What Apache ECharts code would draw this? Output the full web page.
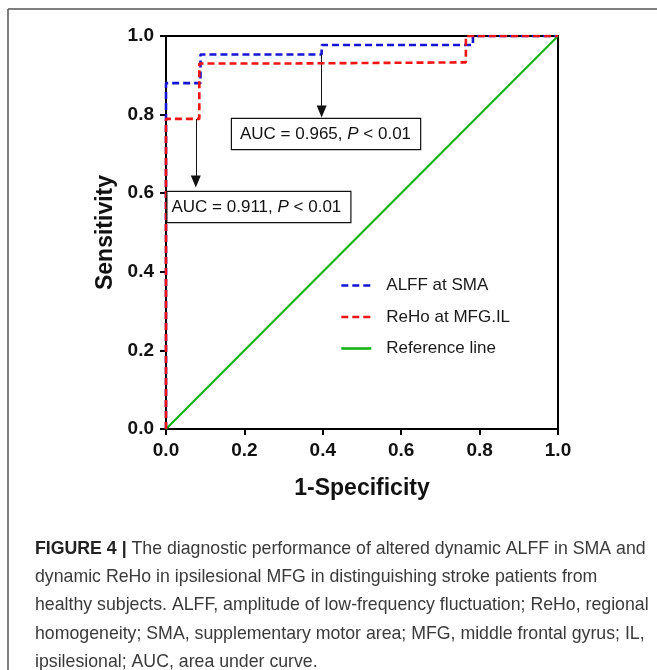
<!DOCTYPE html>
<html><head><meta charset="utf-8">
<script src="https://cdn.jsdelivr.net/npm/echarts@6/dist/echarts.min.js"></script>
<style>html,body{margin:0;padding:0;background:#fff}#c{width:657px;height:670px}</style>
</head><body><div id="c"></div>
<script>
// ROC curve points
const alffFpr = [0, 0, 0.088, 0.088, 0.397, 0.397, 0.783, 0.783, 1.0];
const alffTpr = [0, 0.880, 0.880, 0.953, 0.953, 0.977, 0.977, 1.0, 1.0];
const rehoFpr = [0, 0, 0.085, 0.085, 0.308, 0.308, 0.765, 0.765, 1.0];
const rehoTpr = [0, 0.789, 0.789, 0.930, 0.930, 0.933, 0.933, 1.0, 1.0];
const refX = [0, 1];
const refY = [0, 1];
const seriesNames = ['ALFF at SMA', 'ReHo at MFG.IL', 'Reference line'];
// annotation arrows: [x, yStart, yEnd]
const arrowAlff = [0.397, 0.953, 0.808];
const arrowReho = [0.076, 0.789, 0.630];
const aucTexts = ['AUC = 0.965, ', 'AUC = 0.911, '];
const captionBold = 'FIGURE 4 |';
const captionLines = [
  ' The diagnostic performance of altered dynamic ALFF in SMA and',
  'dynamic ReHo in ipsilesional MFG in distinguishing stroke patients from',
  'healthy subjects. ALFF, amplitude of low-frequency fluctuation; ReHo, regional',
  'homogeneity; SMA, supplementary motor area; MFG, middle frontal gyrus; IL,',
  'ipsilesional; AUC, area under curve.'
];

const zip = (a, b) => a.map((v, i) => [v, b[i]]);
const AF = '"Liberation Sans", Arial, sans-serif';
const CF = '"Liberation Sans", Arial, sans-serif';

// fit caption font size to width of the longest line
const cv = document.createElement('canvas').getContext('2d');
cv.font = '100px ' + CF;
const w3 = cv.measureText(captionLines[2]).width;
const capSize = 100 * 614 / w3;

function arrowLine(a) {
  return {
    silent: true, animation: false,
    symbol: ['none', 'triangle'], symbolSize: [10, 12],
    lineStyle: {color: '#111', width: 1, type: 'solid'},
    label: {show: false},
    data: [[{coord: [a[0], a[1]]}, {coord: [a[0], a[2]]}]]
  };
}

const chart = echarts.init(document.getElementById('c'));
const capGraphics = captionLines.map((t, i) => ({
  type: 'text', silent: true,
  style: {
    x: 35, y: 549 + i * 28.3,
    text: i === 0 ? '{b|' + captionBold + '}{n|' + t + '}' : t,
    fontFamily: CF, fontSize: capSize, fill: '#3a3a3a', verticalAlign: 'middle',
    rich: i === 0 ? {
      b: {fontFamily: CF, fontSize: capSize, fontWeight: 'bold', fill: '#222', verticalAlign: 'middle'},
      n: {fontFamily: CF, fontSize: capSize, fill: '#3a3a3a', verticalAlign: 'middle'}
    } : undefined
  }
}));

function aucBox(x, y, txt, pad) {
  return {
    type: 'text', silent: true, z: 50,
    style: {
      x: x, y: y,
      text: '{n|' + txt + '}{i|P}{n| < 0.01}',
      fontFamily: AF, fontSize: 17, fill: '#111',
      backgroundColor: '#fff', borderColor: '#111', borderWidth: 1.2,
      padding: pad,
      rich: {
        n: {fontFamily: AF, fontSize: 17, fill: '#111', lineHeight: 20},
        i: {fontFamily: AF, fontSize: 17, fontStyle: 'italic', fill: '#111', lineHeight: 20}
      }
    }
  };
}

chart.setOption({
  animation: false,
  backgroundColor: '#fff',
  grid: {left: 166, top: 36, width: 392, height: 393, show: true, borderColor: '#000', borderWidth: 2, backgroundColor: 'transparent'},
  xAxis: {
    type: 'value', min: 0, max: 1, interval: 0.2,
    name: '1-Specificity', nameLocation: 'middle', nameGap: 48,
    nameTextStyle: {fontFamily: AF, fontSize: 23, fontWeight: 'bold', color: '#111'},
    axisLine: {lineStyle: {color: '#000', width: 2}},
    axisTick: {length: 6, lineStyle: {color: '#000', width: 2}},
    axisLabel: {margin: 12, fontFamily: AF, fontSize: 19, fontWeight: 'bold', color: '#111', formatter: v => v.toFixed(1)},
    splitLine: {show: false}
  },
  yAxis: {
    type: 'value', min: 0, max: 1, interval: 0.2,
    name: 'Sensitivity', nameLocation: 'middle', nameGap: 46,
    nameTextStyle: {fontFamily: AF, fontSize: 23, fontWeight: 'bold', color: '#111'},
    axisLine: {show: true, lineStyle: {color: '#000', width: 2}},
    axisTick: {show: true, length: 6, lineStyle: {color: '#000', width: 2}},
    axisLabel: {margin: 12, fontFamily: AF, fontSize: 19, fontWeight: 'bold', color: '#111', formatter: v => v.toFixed(1)},
    splitLine: {show: false}
  },
  legend: {
    orient: 'vertical', left: 335, top: 272,
    itemWidth: 30, itemHeight: 14, itemGap: 14.5,
    data: seriesNames,
    itemStyle: {opacity: 0},
    lineStyle: {width: 2.6},
    textStyle: {fontFamily: AF, fontSize: 17, color: '#1a1a1a', padding: [0, 0, 0, 10]}
  },
  series: [
    {name: seriesNames[2], type: 'line', data: zip(refX, refY), symbol: 'none', z: 3,
     lineStyle: {color: '#14b414', width: 2.2, type: 'solid'}, itemStyle: {color: '#14b414'}},
    {name: seriesNames[0], type: 'line', data: zip(alffFpr, alffTpr), symbol: 'none', z: 4,
     lineStyle: {color: '#1414d2', width: 2.6, type: [7, 4]}, itemStyle: {color: '#1414d2'},
     markLine: arrowLine(arrowAlff)},
    {name: seriesNames[1], type: 'line', data: zip(rehoFpr, rehoTpr), symbol: 'none', z: 5,
     lineStyle: {color: '#f01414', width: 2.6, type: [7, 4]}, itemStyle: {color: '#f01414'},
     markLine: arrowLine(arrowReho)}
  ],
  graphic: [
    {type: 'line', silent: true, shape: {x1: 8, y1: 9, x2: 657, y2: 9}, style: {stroke: '#555', lineWidth: 1.5}},
    {type: 'line', silent: true, shape: {x1: 8, y1: 9, x2: 8, y2: 670}, style: {stroke: '#555', lineWidth: 1.5}},
    aucBox(232, 119, aucTexts[0], [5, 9, 5, 8]),
    aucBox(167.5, 192, aucTexts[1], [5, 9, 5, 4])
  ].concat(capGraphics)
});
</script></body></html>
